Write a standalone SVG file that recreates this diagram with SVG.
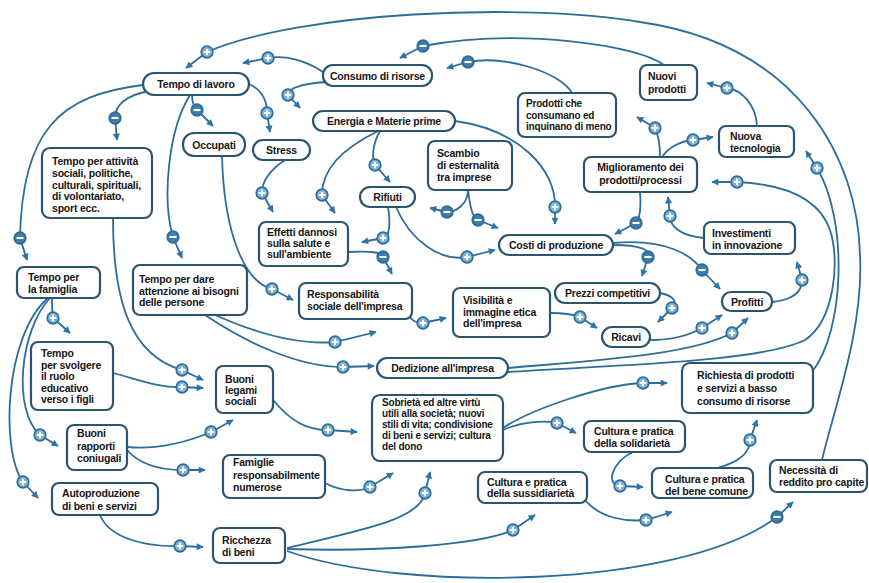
<svg xmlns="http://www.w3.org/2000/svg" xmlns:xlink="http://www.w3.org/1999/xlink" width="869" height="583" viewBox="0 0 869 583">
<style>
.b{fill:#fff;stroke:#2b5470;stroke-width:2.2}
.t{font-family:"Liberation Sans",Arial,sans-serif;font-weight:bold;font-size:10.5px;fill:#161616;letter-spacing:-0.2px}
.c{text-anchor:middle}
.s{font-size:10px}
.l{fill:none;stroke:#2c6d99;stroke-width:1.8;marker-end:url(#arr)}
</style>
<defs>
<marker id="arr" viewBox="0 0 10 10" refX="9" refY="5" markerWidth="9" markerHeight="7" markerUnits="userSpaceOnUse" orient="auto"><path d="M0,0L10,5L0,10z" fill="#2c73a6"/></marker>
<g id="p"><circle r="5.8" fill="#7eb3d6" stroke="#2c6d99" stroke-width="1.7"/><path d="M-3.3,0H3.3M0,-3.3V3.3" stroke="#fff" stroke-width="2.1"/></g>
<g id="m"><circle r="5.8" fill="#3c7cab" stroke="#2c6d99" stroke-width="1.7"/><path d="M-3.5,0H3.5" stroke="#fff" stroke-width="2.1"/></g>
</defs>
<rect width="869" height="583" fill="#fff"/>
<g id="connectors">
<path class="l" d="M822,460 C832,415 864,330 860,255 C858,160 800,45 640,22 C520,2 300,12 207,52 L186,68"/><use href="#p" x="207" y="52"/>
<path class="l" d="M287,551 C400,592 680,590 777,517 L793,502"/><use href="#m" x="777" y="517"/>
<path class="l" d="M287,548 C360,530 420,520 425,493 L430,472"/><use href="#p" x="425" y="493"/>
<path class="l" d="M287,549 C380,552 480,545 513,530 L535,515"/><use href="#p" x="513" y="530"/>
<path class="l" d="M100,515 C110,540 150,547 180,546 L203,547"/><use href="#p" x="180" y="546"/>
<path class="l" d="M52,298 C52,305 52,312 53,318 L70,333"/><use href="#p" x="53" y="318"/>
<path class="l" d="M50,298 C20,330 12,410 40,435 L58,446"/><use href="#p" x="40" y="435"/>
<path class="l" d="M48,298 C5,335 0,450 23,482 L38,498"/><use href="#p" x="23" y="482"/>
<path class="l" d="M113,218 C113,300 130,355 182,370 L203,380"/><use href="#p" x="182" y="370"/>
<path class="l" d="M113,373 C140,380 160,388 182,387 L203,388"/><use href="#p" x="182" y="387"/>
<path class="l" d="M127,447 C160,450 192,440 211,432 L233,420"/><use href="#p" x="211" y="432"/>
<path class="l" d="M127,450 C140,465 162,470 183,470 L205,470"/><use href="#p" x="183" y="470"/>
<path class="l" d="M273,400 C290,420 305,430 328,430 L357,432"/><use href="#p" x="328" y="430"/>
<path class="l" d="M325,483 C342,492 360,492 370,487 L393,473"/><use href="#p" x="370" y="487"/>
<path class="l" d="M503,428 C530,410 600,385 643,383 L667,383"/><use href="#p" x="643" y="383"/>
<path class="l" d="M503,430 C520,422 545,420 557,423 L576,433"/><use href="#p" x="557" y="423"/>
<path class="l" d="M633,452 C612,462 605,485 620,486 L643,487"/><use href="#p" x="620" y="486"/>
<path class="l" d="M585,500 C600,518 625,522 646,520 L672,512"/><use href="#p" x="646" y="520"/>
<path class="l" d="M717,468 C740,462 750,452 750,440 L757,420"/><use href="#p" x="750" y="440"/>
<path class="l" d="M812,372 C845,330 848,220 817,168 L806,151"/><use href="#p" x="817" y="168"/>
<path class="l" d="M508,372 C620,365 760,362 805,340 C835,320 840,260 830,230 C818,195 780,184 737,182 L712,182"/><use href="#p" x="737" y="182"/>
<path class="l" d="M508,368 C600,360 690,355 732,333 L748,318"/><use href="#p" x="732" y="333"/>
<path class="l" d="M205,315 C250,345 300,367 343,367 L374,366"/><use href="#p" x="343" y="367"/>
<path class="l" d="M215,315 C260,335 300,345 335,342 L376,332"/><use href="#p" x="335" y="342"/>
<path class="l" d="M222,156 C224,235 245,282 272,289 L293,300"/><use href="#p" x="272" y="289"/>
<path class="l" d="M410,317 C413,322 418,323 423,323 L446,318"/><use href="#p" x="423" y="323"/>
<path class="l" d="M550,313 C565,313 575,315 580,317 L597,328"/><use href="#p" x="580" y="317"/>
<path class="l" d="M660,293 C676,296 677,304 672,308 L658,322"/><use href="#p" x="672" y="308"/>
<path class="l" d="M650,340 C672,340 690,335 702,328 L722,315"/><use href="#p" x="702" y="328"/>
<path class="l" d="M613,245 C640,245 652,250 648,257 L642,276"/><use href="#m" x="648" y="257"/>
<path class="l" d="M613,243 C665,238 692,255 702,270 L720,289"/><use href="#m" x="702" y="270"/>
<path class="l" d="M772,302 C792,300 802,292 802,280 L797,262"/><use href="#p" x="802" y="280"/>
<path class="l" d="M704,238 C680,236 670,226 670,216 L668,197"/><use href="#p" x="670" y="216"/>
<path class="l" d="M640,192 C641,205 640,218 636,223 L615,234"/><use href="#m" x="636" y="223"/>
<path class="l" d="M660,157 C660,146 658,134 655,128 L637,117"/><use href="#p" x="655" y="128"/>
<path class="l" d="M662,157 C668,148 680,141 693,140 L713,137"/><use href="#p" x="693" y="140"/>
<path class="l" d="M757,126 C756,105 742,90 727,88 L707,83"/><use href="#p" x="727" y="88"/>
<path class="l" d="M665,66 C640,45 520,28 423,46 L400,58"/><use href="#m" x="423" y="46"/>
<path class="l" d="M572,93 C560,72 505,55 468,62 L447,68"/><use href="#m" x="468" y="62"/>
<path class="l" d="M323,72 C305,60 285,55 268,58 L243,63"/><use href="#p" x="268" y="58"/>
<path class="l" d="M326,82 C300,84 288,88 288,95 L300,108"/><use href="#p" x="288" y="95"/>
<path class="l" d="M249,84 C262,90 267,100 267,113 L270,132"/><use href="#p" x="267" y="113"/>
<path class="l" d="M192,95 C192,102 194,107 197,110 L213,126"/><use href="#m" x="197" y="110"/>
<path class="l" d="M150,91 C125,95 115,106 115,118 L117,140"/><use href="#m" x="115" y="118"/>
<path class="l" d="M143,85 C60,95 22,130 20,238 L27,260"/><use href="#m" x="20" y="238"/>
<path class="l" d="M190,95 C168,130 162,200 173,237 L182,258"/><use href="#m" x="173" y="237"/>
<path class="l" d="M285,160 C270,170 262,180 262,193 L273,212"/><use href="#p" x="262" y="193"/>
<path class="l" d="M378,131 C340,150 322,170 322,195 L335,213"/><use href="#p" x="322" y="195"/>
<path class="l" d="M380,131 C372,145 372,158 375,165 L390,182"/><use href="#p" x="375" y="165"/>
<path class="l" d="M455,121 C520,130 556,170 555,207 L555,224"/><use href="#p" x="555" y="207"/>
<path class="l" d="M468,190 C468,204 456,212 447,212 L430,208"/><use href="#m" x="447" y="212"/>
<path class="l" d="M468,190 C470,205 472,218 478,220 L498,228"/><use href="#m" x="478" y="220"/>
<path class="l" d="M388,207 C391,225 389,238 383,238 L362,242"/><use href="#p" x="383" y="238"/>
<path class="l" d="M396,207 C410,240 440,262 467,257 L495,250"/><use href="#p" x="467" y="257"/>
<path class="l" d="M348,252 C370,251 383,252 383,257 L392,274"/><use href="#m" x="383" y="257"/>
</g>
<g id="n-tempo-lavoro"><rect class="b" x="143" y="73" width="106" height="22" rx="11"/><text class="t c" x="196" y="88">Tempo di lavoro</text></g>
<g id="n-consumo"><rect class="b" x="323" y="65" width="109" height="21" rx="10"/><text class="t c" x="377.5" y="79.5">Consumo di risorse</text></g>
<g id="n-nuovi-prodotti"><rect class="b" x="640" y="65" width="57" height="35" rx="7"/><text class="t" x="648"><tspan x="648" y="80">Nuovi</tspan><tspan x="648" y="93">prodotti</tspan></text></g>
<g id="n-prodotti"><rect class="b" x="518" y="93" width="98" height="44" rx="7"/><text class="t s" x="526"><tspan x="526" y="107">Prodotti che</tspan><tspan x="526" y="119">consumano ed</tspan><tspan x="526" y="130">inquinano di meno</tspan></text></g>
<g id="n-nuova-tecnologia"><rect class="b" x="719" y="126" width="75" height="31" rx="7"/><text class="t" x="730"><tspan x="730" y="140">Nuova</tspan><tspan x="730" y="152">tecnologia</tspan></text></g>
<g id="n-miglioramento"><rect class="b" x="584" y="157" width="113" height="35" rx="7"/><text class="t c" x="640.5"><tspan x="640.5" y="171">Miglioramento dei</tspan><tspan x="640.5" y="184">prodotti/processi</tspan></text></g>
<g id="n-energia"><rect class="b" x="313" y="111" width="142" height="20" rx="10"/><text class="t c" x="384" y="125">Energia e Materie prime</text></g>
<g id="n-scambio"><rect class="b" x="428" y="141" width="84" height="49" rx="7"/><text class="t" x="437"><tspan x="437" y="157">Scambio</tspan><tspan x="437" y="169">di esternalità</tspan><tspan x="437" y="181">tra imprese</tspan></text></g>
<g id="n-occupati"><rect class="b" x="183" y="133" width="62" height="23" rx="11"/><text class="t c" x="214" y="148.5">Occupati</text></g>
<g id="n-stress"><rect class="b" x="253" y="140" width="57" height="20" rx="10"/><text class="t c" x="281.5" y="154">Stress</text></g>
<g id="n-tempo-attivita"><rect class="b" x="42" y="148" width="110" height="70" rx="8"/><text class="t" x="52"><tspan x="52" y="165">Tempo per attività</tspan><tspan x="52" y="177">sociali, politiche,</tspan><tspan x="52" y="189">culturali, spirituali,</tspan><tspan x="52" y="200">di volontariato,</tspan><tspan x="52" y="212">sport ecc.</tspan></text></g>
<g id="n-rifiuti"><rect class="b" x="360" y="187" width="55" height="20" rx="10"/><text class="t c" x="387.5" y="201">Rifiuti</text></g>
<g id="n-effetti"><rect class="b" x="259" y="222" width="89" height="44" rx="7"/><text class="t" x="267"><tspan x="267" y="236">Effetti dannosi</tspan><tspan x="267" y="247">sulla salute e</tspan><tspan x="267" y="258">sull'ambiente</tspan></text></g>
<g id="n-costi"><rect class="b" x="499" y="235" width="114" height="20" rx="10"/><text class="t c" x="556" y="249">Costi di produzione</text></g>
<g id="n-investimenti"><rect class="b" x="704" y="222" width="91" height="32" rx="7"/><text class="t" x="712"><tspan x="712" y="237">Investimenti</tspan><tspan x="712" y="249">in innovazione</tspan></text></g>
<g id="n-tempo-famiglia"><rect class="b" x="17" y="267" width="83" height="31" rx="7"/><text class="t" x="28"><tspan x="28" y="281">Tempo per</tspan><tspan x="28" y="293">la famiglia</tspan></text></g>
<g id="n-tempo-dare"><rect class="b" x="133" y="265" width="114" height="50" rx="7"/><text class="t" x="139"><tspan x="139" y="283">Tempo per dare</tspan><tspan x="139" y="295">attenzione ai bisogni</tspan><tspan x="139" y="306">delle persone</tspan></text></g>
<g id="n-responsabilita"><rect class="b" x="299" y="283" width="113" height="36" rx="7"/><text class="t" x="307"><tspan x="307" y="298">Responsabilità</tspan><tspan x="307" y="310">sociale dell'impresa</tspan></text></g>
<g id="n-prezzi"><rect class="b" x="555" y="283" width="105" height="20" rx="10"/><text class="t c" x="607.5" y="297">Prezzi competitivi</text></g>
<g id="n-profitti"><rect class="b" x="722" y="292" width="50" height="19" rx="9"/><text class="t c" x="747" y="305.5">Profitti</text></g>
<g id="n-visibilita"><rect class="b" x="453" y="288" width="97" height="49" rx="7"/><text class="t" x="463"><tspan x="463" y="304">Visibilità e</tspan><tspan x="463" y="316">immagine etica</tspan><tspan x="463" y="327">dell'impresa</tspan></text></g>
<g id="n-ricavi"><rect class="b" x="602" y="327" width="48" height="20" rx="10"/><text class="t c" x="626" y="341">Ricavi</text></g>
<g id="n-dedizione"><rect class="b" x="377" y="358" width="131" height="20" rx="10"/><text class="t c" x="442.5" y="372">Dedizione all'impresa</text></g>
<g id="n-tempo-svolgere"><rect class="b" x="31" y="342" width="82" height="68" rx="7"/><text class="t" x="41"><tspan x="41" y="357">Tempo</tspan><tspan x="41" y="368.5">per svolgere</tspan><tspan x="41" y="380">il ruolo</tspan><tspan x="41" y="391.5">educativo</tspan><tspan x="41" y="403">verso i figli</tspan></text></g>
<g id="n-legami"><rect class="b" x="216" y="366" width="57" height="47" rx="7"/><text class="t" x="225"><tspan x="225" y="383">Buoni</tspan><tspan x="225" y="394">legami</tspan><tspan x="225" y="405">sociali</tspan></text></g>
<g id="n-sobrieta"><rect class="b" x="372" y="395" width="131" height="66" rx="8"/><text class="t s" x="382"><tspan x="382" y="406">Sobrietà ed altre virtù</tspan><tspan x="382" y="417">utili alla società; nuovi</tspan><tspan x="382" y="428">stili di vita; condivisione</tspan><tspan x="382" y="439">di beni e servizi; cultura</tspan><tspan x="382" y="450">del dono</tspan></text></g>
<g id="n-richiesta"><rect class="b" x="682" y="363" width="131" height="50" rx="8"/><text class="t" x="697"><tspan x="697" y="379">Richiesta di prodotti</tspan><tspan x="697" y="392">e servizi a basso</tspan><tspan x="697" y="405">consumo di risorse</tspan></text></g>
<g id="n-coniugali"><rect class="b" x="67" y="425" width="60" height="45" rx="7"/><text class="t" x="77"><tspan x="77" y="437">Buoni</tspan><tspan x="77" y="450">rapporti</tspan><tspan x="77" y="462">coniugali</tspan></text></g>
<g id="n-famiglie"><rect class="b" x="223" y="455" width="102" height="43" rx="7"/><text class="t" x="233"><tspan x="233" y="466">Famiglie</tspan><tspan x="233" y="479">responsabilmente</tspan><tspan x="233" y="491">numerose</tspan></text></g>
<g id="n-solidarieta"><rect class="b" x="584" y="421" width="101" height="31" rx="7"/><text class="t" x="594"><tspan x="594" y="435">Cultura e pratica</tspan><tspan x="594" y="447">della solidarietà</tspan></text></g>
<g id="n-sussidiarieta"><rect class="b" x="478" y="472" width="109" height="31" rx="7"/><text class="t" x="487"><tspan x="487" y="486">Cultura e pratica</tspan><tspan x="487" y="497">della sussidiarietà</tspan></text></g>
<g id="n-bene-comune"><rect class="b" x="652" y="468" width="101" height="30" rx="7"/><text class="t" x="665"><tspan x="665" y="483">Cultura e pratica</tspan><tspan x="665" y="495">del bene comune</tspan></text></g>
<g id="n-necessita"><rect class="b" x="770" y="460" width="97" height="32" rx="7"/><text class="t" x="779"><tspan x="779" y="474">Necessità di</tspan><tspan x="779" y="486">reddito pro capite</tspan></text></g>
<g id="n-autoproduzione"><rect class="b" x="52" y="483" width="106" height="32" rx="7"/><text class="t" x="62"><tspan x="62" y="497">Autoproduzione</tspan><tspan x="62" y="510">di beni e servizi</tspan></text></g>
<g id="n-ricchezza"><rect class="b" x="213" y="528" width="72" height="35" rx="7"/><text class="t" x="222"><tspan x="222" y="544">Ricchezza</tspan><tspan x="222" y="556">di beni</tspan></text></g>
</svg>
